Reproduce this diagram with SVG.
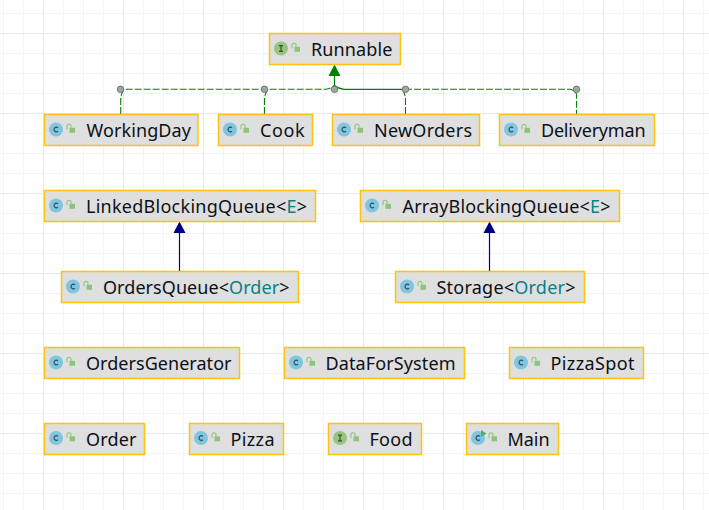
<svg xmlns="http://www.w3.org/2000/svg" width="709" height="510" viewBox="0 0 709 510">
<style>
.minor{stroke:#f4f4f4;stroke-width:1;fill:none}
.major{stroke:#e8e8e8;stroke-width:1;fill:none}
.box{fill:#dfdfdf;stroke:#fec30f;stroke-width:1.5}
text{font-family:"Noto Sans","Open Sans",sans-serif;font-size:18px;fill:#0c1018}
.t{fill:#08808a}
.cc{fill:#7fc6e0}
.ci{fill:#97c47f}
.lk{fill:#8cc47c}
.sh{fill:none;stroke:#8cc47c;stroke-width:1.1}
.dg{fill:none;stroke:#008000;stroke-width:1.1;stroke-dasharray:7 2}
.sg{fill:none;stroke:#008000;stroke-width:1.2}
.nv{fill:none;stroke:#000080;stroke-width:1.2}
.knob{fill:#a3a3a3;stroke:#666;stroke-width:.8}
</style>
<defs>
<g id="lock"><rect x="3" y="2" width="5.500" height="5" class="lk"/><path class="sh" d="M0.500 3.500V0.500a2 2 0 0 1 4 0V2"/></g>
<g id="cicon"><circle r="7" class="cc"/><path d="M2 -1.600A2.300 2.300 0 1 0 2 1.600" fill="none" stroke="#3a4a52" stroke-width="1.200"/></g>
<g id="iicon"><circle r="7" class="ci"/><path d="M-2 -2.800H2M-2 2.800H2M0 -2.800V2.800" fill="none" stroke="#3a4a42" stroke-width="1.200"/></g>
</defs>
<rect width="709" height="510" fill="#ffffff"/>
<g id="grid">
<path class="minor" d="M3.500 0V510M23.500 0V510M63.500 0V510M83.500 0V510M103.500 0V510M143.500 0V510M163.500 0V510M183.500 0V510M223.500 0V510M243.500 0V510M263.500 0V510M303.500 0V510M323.500 0V510M343.500 0V510M383.500 0V510M403.500 0V510M423.500 0V510M463.500 0V510M483.500 0V510M503.500 0V510M543.500 0V510M563.500 0V510M583.500 0V510M623.500 0V510M643.500 0V510M663.500 0V510M703.500 0V510"/>
<path class="minor" d="M0 13.500H709M0 53.500H709M0 73.500H709M0 93.500H709M0 133.500H709M0 153.500H709M0 173.500H709M0 213.500H709M0 233.500H709M0 253.500H709M0 293.500H709M0 313.500H709M0 333.500H709M0 373.500H709M0 393.500H709M0 413.500H709M0 453.500H709M0 473.500H709M0 493.500H709"/>
<path class="major" d="M43.500 0V510M123.500 0V510M203.500 0V510M283.500 0V510M363.500 0V510M443.500 0V510M523.500 0V510M603.500 0V510M683.500 0V510"/>
<path class="major" d="M0 33.500H709M0 113.500H709M0 193.500H709M0 273.500H709M0 353.500H709M0 433.500H709"/>
</g>
<g id="connectors">
<path class="dg" d="M120.700 114V100Q120.700 94 124 89.300H326Q331 88.500 334.500 85.500"/>
<path class="dg" d="M264.500 114V100Q264.500 94 268 89.300"/>
<path class="sg" d="M334.500 85.500Q338 88.500 344 89.300H405"/>
<path class="dg" d="M405 89.300H570Q574 90 576.500 94V114"/>
<path class="dg" d="M405.500 114V100Q405.500 94 403 91"/>
<path class="sg" d="M334.500 89V75"/>
<polygon points="334.500,64.500 328.500,76 340.500,76" fill="#008000"/>
<path class="nv" d="M179.500 271V232"/>
<polygon points="179.500,221.500 173.500,233 185.500,233" fill="#000080"/>
<path class="nv" d="M489.500 271V232"/>
<polygon points="489.500,221.500 483.500,233 495.500,233" fill="#000080"/>
<circle class="knob" cx="120.500" cy="89.300" r="3.300"/>
<circle class="knob" cx="264.500" cy="89.300" r="3.300"/>
<circle class="knob" cx="334.500" cy="89.300" r="3.300"/>
<circle class="knob" cx="405.500" cy="89.300" r="3.300"/>
<circle class="knob" cx="576.500" cy="89.300" r="3.300"/>
</g>
<g id="Runnable"><rect class="box" x="269.500" y="33.500" width="131" height="31"/><use href="#iicon" x="281" y="48.500"/><use href="#lock" x="291.500" y="44.800"/><text x="311" y="56" textLength="81.500">Runnable</text></g>
<g id="WorkingDay"><rect class="box" x="44.500" y="114.500" width="153.500" height="31"/><use href="#cicon" x="56" y="129.500"/><use href="#lock" x="66.500" y="125.800"/><text x="86.500" y="137" textLength="104.500">WorkingDay</text></g>
<g id="Cook"><rect class="box" x="218.500" y="114.500" width="94" height="31"/><use href="#cicon" x="230" y="129.500"/><use href="#lock" x="240.500" y="125.800"/><text x="260" y="137" textLength="44.500">Cook</text></g>
<g id="NewOrders"><rect class="box" x="332.500" y="114.500" width="147" height="31"/><use href="#cicon" x="344" y="129.500"/><use href="#lock" x="354.500" y="125.800"/><text x="374" y="137" textLength="98">NewOrders</text></g>
<g id="Deliveryman"><rect class="box" x="499.500" y="114.500" width="155" height="31"/><use href="#cicon" x="511" y="129.500"/><use href="#lock" x="521.500" y="125.800"/><text x="541" y="137" textLength="104.500">Deliveryman</text></g>
<g id="LinkedBlockingQueue"><rect class="box" x="44.500" y="190.500" width="271" height="31"/><use href="#cicon" x="56" y="205.500"/><use href="#lock" x="66.500" y="201.800"/><text x="86" y="213" textLength="221">LinkedBlockingQueue&lt;<tspan class="t">E</tspan>&gt;</text></g>
<g id="ArrayBlockingQueue"><rect class="box" x="360.500" y="190.500" width="259" height="31"/><use href="#cicon" x="372" y="205.500"/><use href="#lock" x="382.500" y="201.800"/><text x="402.500" y="213" textLength="208">ArrayBlockingQueue&lt;<tspan class="t">E</tspan>&gt;</text></g>
<g id="OrdersQueue"><rect class="box" x="61.500" y="271.500" width="237" height="31"/><use href="#cicon" x="73" y="286.500"/><use href="#lock" x="83.500" y="282.800"/><text x="103" y="294" textLength="186.500">OrdersQueue&lt;<tspan class="t">Order</tspan>&gt;</text></g>
<g id="Storage"><rect class="box" x="395.500" y="271.500" width="189" height="31"/><use href="#cicon" x="407" y="286.500"/><use href="#lock" x="417.500" y="282.800"/><text x="436.500" y="294" textLength="139">Storage&lt;<tspan class="t">Order</tspan>&gt;</text></g>
<g id="OrdersGenerator"><rect class="box" x="44.500" y="347.500" width="195" height="31"/><use href="#cicon" x="56" y="362.500"/><use href="#lock" x="66.500" y="358.800"/><text x="86" y="370" textLength="145.500">OrdersGenerator</text></g>
<g id="DataForSystem"><rect class="box" x="284.500" y="347.500" width="180" height="31"/><use href="#cicon" x="296" y="362.500"/><use href="#lock" x="306.500" y="358.800"/><text x="325.500" y="370" textLength="130">DataForSystem</text></g>
<g id="PizzaSpot"><rect class="box" x="509.500" y="347.500" width="134" height="31"/><use href="#cicon" x="521" y="362.500"/><use href="#lock" x="531.500" y="358.800"/><text x="550.500" y="370" textLength="84">PizzaSpot</text></g>
<g id="Order"><rect class="box" x="44.500" y="423.500" width="100" height="31"/><use href="#cicon" x="56" y="438"/><use href="#lock" x="66.500" y="434.300"/><text x="86" y="446" textLength="50.500">Order</text></g>
<g id="Pizza"><rect class="box" x="189.500" y="423.500" width="94" height="31"/><use href="#cicon" x="201" y="438"/><use href="#lock" x="211.500" y="434.300"/><text x="230.500" y="446" textLength="44">Pizza</text></g>
<g id="Food"><rect class="box" x="328.500" y="423.500" width="93" height="31"/><use href="#iicon" x="340" y="438"/><use href="#lock" x="350.500" y="434.300"/><text x="369.500" y="446" textLength="43">Food</text></g>
<g id="Main"><rect class="box" x="466.500" y="423.500" width="92" height="31"/><use href="#cicon" x="478" y="438"/><polygon points="481,430 481,437 486.500,433.500" fill="#55b04f"/><use href="#lock" x="488.500" y="434.300"/><text x="507.500" y="446" textLength="42">Main</text></g>
</svg>
